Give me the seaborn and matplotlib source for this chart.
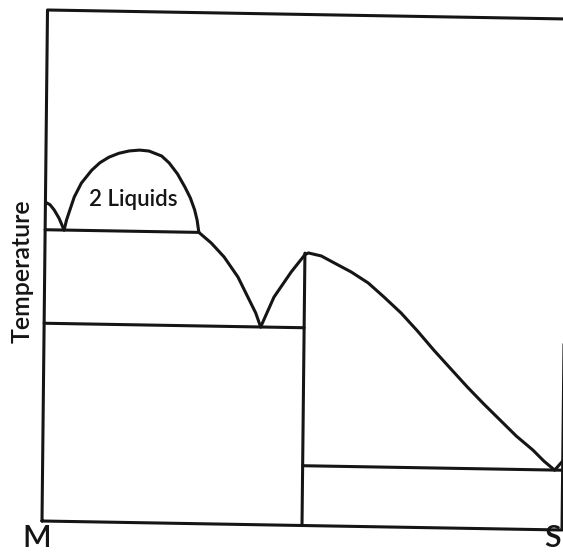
import numpy as np
import pandas as pd
import seaborn as sns
import matplotlib.pyplot as plt
from matplotlib.transforms import Affine2D

sns.set_style("white")
plt.rcParams['font.family'] = ['Lato', 'DejaVu Sans']

# Diagrama de fases M - S (composición c: 0 = M, 1 = S; temperatura t: 0..1)
# Liquidus lado M
liq_m_c = [0.000, 0.009, 0.017, 0.0265, 0.0364]
liq_m_t = [0.624, 0.619, 0.609, 0.593, 0.570]

# Laguna de inmiscibilidad (2 líquidos)
domo_c = [0.0364, 0.041, 0.047, 0.0553, 0.0688, 0.0883, 0.104, 0.121, 0.140,
          0.160, 0.180, 0.198, 0.2225, 0.237, 0.2534, 0.268, 0.2786, 0.287,
          0.292, 0.2956]
domo_t = [0.570, 0.590, 0.609, 0.635, 0.6626, 0.688, 0.703, 0.714, 0.722,
          0.727, 0.729, 0.7275, 0.7182, 0.705, 0.6836, 0.658, 0.637, 0.614,
          0.594, 0.570]

# Liquidus desde el monotéctico hasta el eutéctico
liq_2_c = [0.2956, 0.3196, 0.3447, 0.3717, 0.3911, 0.4066, 0.4164]
liq_2_t = [0.570, 0.5497, 0.5227, 0.484, 0.4452, 0.4143, 0.387]

# Liquidus del eutéctico al compuesto
liq_3_c = [0.4164, 0.4414, 0.474, 0.500]
liq_3_t = [0.387, 0.446, 0.4957, 0.530]

# Liquidus del compuesto hacia S
liq_4_c = [0.500, 0.5066, 0.5316, 0.5568, 0.5894, 0.6224, 0.6527, 0.686, 0.718,
           0.7496, 0.7815, 0.8151, 0.8469, 0.8786, 0.9105, 0.9422, 0.964, 0.9846]
liq_4_t = [0.530, 0.5335, 0.528, 0.5147, 0.4977, 0.4767, 0.450, 0.4192, 0.3845,
           0.3478, 0.313, 0.2765, 0.244, 0.2131, 0.182, 0.1556, 0.134, 0.117]

# Liquidus lado S
liq_s_c = [0.9846, 1.000]
liq_s_t = [0.117, 0.135]

t_monotectico = 0.570
t_eutectico = 0.387
t_eutectico_s = 0.117
c_compuesto = 0.500
t_compuesto = 0.533

curvas = {
    "marco": ([0, 1, 1, 0, 0], [0, 0, 1, 1, 0]),
    "liq_m": (liq_m_c, liq_m_t),
    "domo": (domo_c, domo_t),
    "liq_2": (liq_2_c, liq_2_t),
    "liq_3": (liq_3_c, liq_3_t),
    "liq_4": (liq_4_c, liq_4_t),
    "liq_s": (liq_s_c, liq_s_t),
    "monotectico": ([0, domo_c[-1]], [t_monotectico, t_monotectico]),
    "eutectico": ([0, c_compuesto], [t_eutectico, t_eutectico]),
    "eutectico_s": ([c_compuesto, 1], [t_eutectico_s, t_eutectico_s]),
    "compuesto": ([c_compuesto, c_compuesto], [0, t_compuesto]),
}
df = pd.concat(
    [pd.DataFrame({"c": c, "t": t, "curva": k}) for k, (c, t) in curvas.items()],
    ignore_index=True,
)

fig = plt.figure(figsize=(5.63, 5.58), dpi=100)
ax = fig.add_axes([0, 0, 1, 1])

# la figura escaneada está ligeramente girada
giro = Affine2D(np.array([[520.0, 5.5, 42.0], [9.0, -511.0, 521.0], [0, 0, 1]]))
tr = giro + ax.transData

sns.lineplot(data=df, x="c", y="t", units="curva", estimator=None, sort=False,
             color="#151515", linewidth=2.2, transform=tr, ax=ax,
             solid_joinstyle="round", solid_capstyle="round")
ax.set_xlim(0, 563)
ax.set_ylim(558, 0)
ax.axis("off")

tinta = "#151515"
ax.text(22, 271, "Temperature", rotation=90, ha="center", va="center",
        fontsize=18, fontweight="semibold", color=tinta)
ax.text(133, 200, "2 Liquids", ha="center", va="center", fontsize=16,
        fontweight="semibold", color=tinta)
ax.text(37, 538, "M", ha="center", va="center", fontsize=22,
        fontweight="semibold", color=tinta)
ax.text(552, 538, "S", ha="center", va="center", fontsize=22,
        fontweight="semibold", color=tinta)

fig.savefig("out.png", dpi=100)
